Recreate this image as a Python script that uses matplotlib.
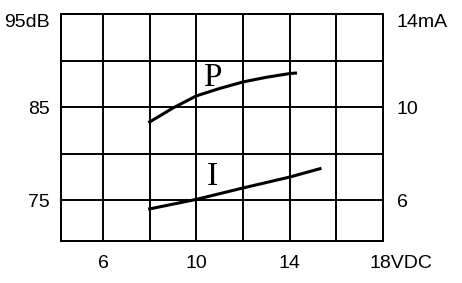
import matplotlib
matplotlib.use('Agg')
import matplotlib.pyplot as plt
import matplotlib.transforms as mtransforms

# P curve (left axis, dB) and I curve (right axis, mA) vs supply voltage
p_volts = [8, 9, 10, 11, 12, 13, 14, 14.25]
p_db = [83.4, 84.9, 86.2, 87.0, 87.7, 88.2, 88.6, 88.65]
i_volts = [8, 10, 12, 14, 15.3]
i_ma = [5.62, 6.03, 6.52, 6.99, 7.35]

x_ticks = [6, 8, 10, 12, 14, 16, 18]
x_labels = ['6', '', '10', '', '14', '', '18VDC']
db_ticks = [75, 80, 85, 90, 95]
db_labels = ['75', '', '85', '', '95dB']
ma_ticks = [6, 10, 14]
ma_labels = ['6', '10', '14mA']


def db_to_ma(db):
    return 6 + (db - 75) * 0.4


plt.rcParams['font.family'] = ['Liberation Sans', 'DejaVu Sans']

fig = plt.figure(figsize=(4.62, 2.83), dpi=100)
ax = fig.add_axes([0.132, 0.1484, 0.697, 0.802])
ax2 = ax.twinx()

ax.set_xlim(4.2, 18)
ax.set_ylim(70.6, 95)
ax2.set_ylim(db_to_ma(70.6), db_to_ma(95))

ax.set_xticks(x_ticks)
ax.set_xticklabels(x_labels)
ax.set_yticks(db_ticks)
ax.set_yticklabels(db_labels)
ax2.set_yticks(ma_ticks)
ax2.set_yticklabels(ma_labels)

ax.grid(True, color='black', lw=1.4)
for a in (ax, ax2):
    a.tick_params(length=0, labelsize=14, colors='black')
    for s in a.spines.values():
        s.set_linewidth(1.4)
ax.tick_params(axis='x', pad=10)
ax.tick_params(axis='y', pad=8)
ax2.tick_params(axis='y', pad=10)

# label alignment tweaks
lab = ax.get_xticklabels()[-1]
lab.set_horizontalalignment('left')
lab.set_transform(lab.get_transform() + mtransforms.ScaledTranslation(-10 / 72, 0, fig.dpi_scale_trans))
ax.get_yticklabels()[-1].set_verticalalignment('top')
ax2.get_yticklabels()[-1].set_verticalalignment('top')

ax.plot(p_volts, p_db, color='black', lw=2.2)
ax2.plot(i_volts, i_ma, color='black', lw=2.2)

ax.text(10.7, 88.1, 'P', fontsize=24, family='Liberation Serif', ha='center', va='center')
ax.text(10.7, 77.5, 'I', fontsize=24, family='Liberation Serif', ha='center', va='center')

fig.savefig('out.png', dpi=100)
